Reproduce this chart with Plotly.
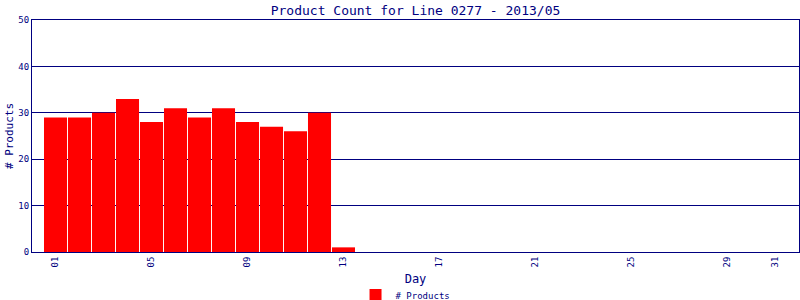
import plotly.graph_objects as go

days = list(range(1, 14))
products = [29, 29, 30, 33, 28, 31, 29, 31, 28, 27, 26, 30, 1]
tick_vals = [1, 5, 9, 13, 17, 21, 25, 29, 31]
tick_text = ["01", "05", "09", "13", "17", "21", "25", "29", "31"]
y_ticks = [0, 10, 20, 30, 40, 50]

NAVY = "#000080"
FONT = "DejaVu Sans Mono"

fig = go.Figure()
fig.add_trace(go.Bar(
    x=days, y=products, name="# Products",
    marker=dict(color="#ff0000", line=dict(color="#808080", width=0)),
))

fig.update_layout(
    width=800, height=300,
    margin=dict(l=32, r=1, t=20, b=48, autoexpand=False),
    paper_bgcolor="white", plot_bgcolor="white",
    bargap=0.04,
    title=dict(text="Product Count for Line 0277 - 2013/05", x=0.5, xref="paper",
               y=1 - 10/300, yanchor="middle",
               font=dict(family=FONT, size=13, color=NAVY)),
    font=dict(family=FONT, size=9, color=NAVY),
    showlegend=True,
    legend=dict(orientation="h", x=0.487, xanchor="center", y=-43/232, yanchor="middle",
                font=dict(family=FONT, size=9, color=NAVY), itemsizing="constant"),
    xaxis=dict(range=[0.02, 31.98], tickvals=tick_vals, ticktext=tick_text,
               tickangle=-90, showgrid=False, zeroline=False, automargin=False,
               showline=True, linecolor=NAVY, linewidth=1, mirror=True,
               ticks="", tickfont=dict(family=FONT, size=9, color=NAVY),
               title=dict(text="Day", font=dict(family=FONT, size=12, color=NAVY), standoff=8)),
    yaxis=dict(range=[0, 50], tickvals=y_ticks, showgrid=True, gridcolor=NAVY, gridwidth=1,
               zeroline=False, showline=True, linecolor=NAVY, linewidth=1, mirror=True,
               automargin=False,
               ticks="", tickfont=dict(family=FONT, size=9, color=NAVY),
               title=dict(text="# Products", font=dict(family=FONT, size=11, color=NAVY), standoff=2)),
)

fig.write_html("out.html")
